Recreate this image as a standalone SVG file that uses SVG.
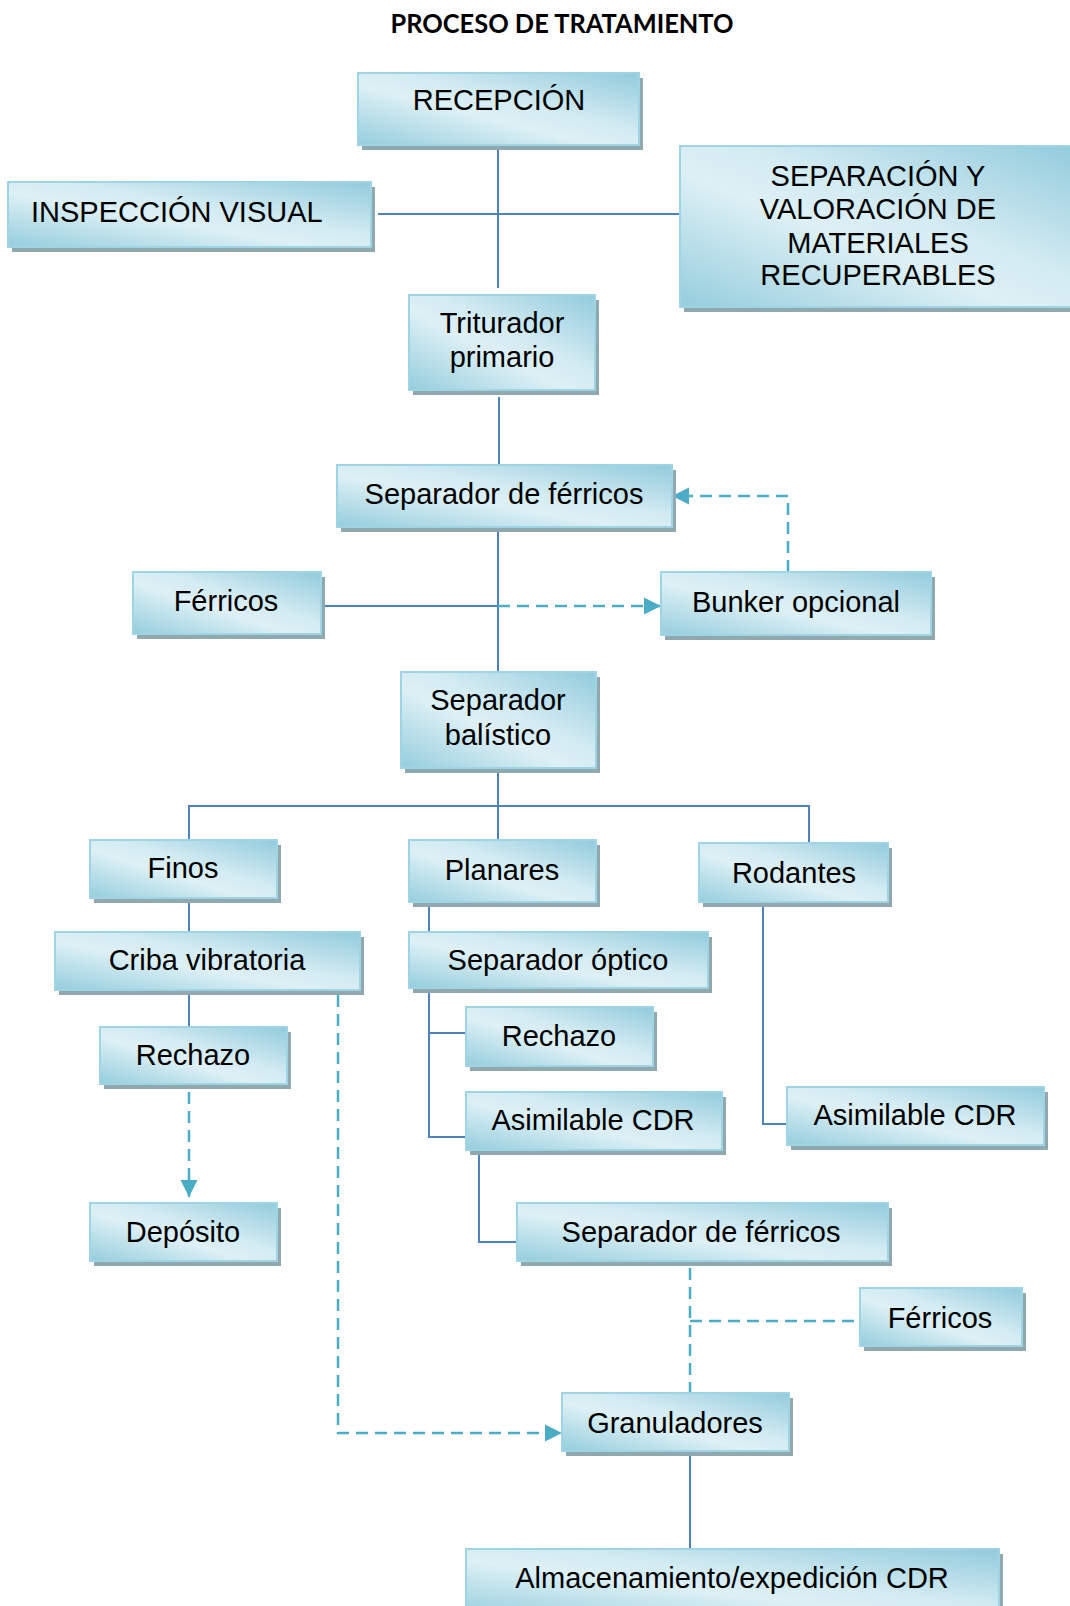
<svg xmlns="http://www.w3.org/2000/svg" width="1070" height="1606" viewBox="0 0 1070 1606">
<defs>
<linearGradient id="g" x1="1" y1="0" x2="0" y2="1">
<stop offset="0" stop-color="#92cbdc"/>
<stop offset="0.42" stop-color="#d3ebf2"/>
<stop offset="0.58" stop-color="#ddf0f5"/>
<stop offset="1" stop-color="#95cddd"/>
</linearGradient>
<marker id="ar" markerUnits="userSpaceOnUse" markerWidth="20" markerHeight="20" refX="17" refY="8.5" orient="auto" overflow="visible">
<path d="M0,0 L17,8.5 L0,17 z" fill="#4bacc6"/>
</marker>
<style>
.sh{fill:#8fa9ae}
.bx{fill:url(#g);stroke:#9fd4e4;stroke-width:2}
.t{font-family:"Liberation Sans",Arial,sans-serif;font-size:29px;fill:#000;text-anchor:middle}
.c{fill:none;stroke:#4f81bd;stroke-width:2}
.d{fill:none;stroke:#4bacc6;stroke-width:2.5;stroke-dasharray:12 7}
</style>
</defs>
<rect width="1070" height="1606" fill="#fff"/>
<text x="562" y="33" font-family="Lato,'Liberation Sans',sans-serif" font-weight="bold" font-size="27" text-anchor="middle" textLength="343" lengthAdjust="spacingAndGlyphs">PROCESO DE TRATAMIENTO</text>

<g id="connectors">
<path class="c" d="M498,150 V288"/>
<path class="c" d="M378,214 H680"/>
<path class="c" d="M499,397 V465"/>
<path class="c" d="M498,532 V672"/>
<path class="c" d="M321,606 H498"/>
<path class="d" d="M498,606 H661" marker-end="url(#ar)"/>
<path class="d" d="M788,572 V496 H672" marker-end="url(#ar)"/>
<path class="c" d="M498,773 V840"/>
<path class="c" d="M189,840 V806 H809 V843"/>
<path class="c" d="M189,903 V932"/>
<path class="c" d="M189,995 V1027"/>
<path class="d" d="M189,1092 V1197" marker-end="url(#ar)"/>
<path class="d" d="M338,995 V1433 H562" marker-end="url(#ar)"/>
<path class="c" d="M429,907 V932"/>
<path class="c" d="M429,993 V1137 H466"/>
<path class="c" d="M429,1033 H466"/>
<path class="c" d="M763,907 V1124 H787"/>
<path class="c" d="M479,1155 V1242 H517"/>
<path class="d" d="M690,1268 V1393"/>
<path class="d" d="M690,1321 H860"/>
<path class="c" d="M690,1456 V1549"/>
</g>

<g id="recepcion"><rect class="sh" x="362" y="78" width="281" height="72"/><rect class="bx" x="358" y="73" width="281" height="72"/><text class="t" x="499" y="110">RECEPCIÓN</text></g>
<g id="inspeccion"><rect class="sh" x="12" y="187" width="363" height="65"/><rect class="bx" x="8" y="182" width="363" height="65"/><text class="t" x="31" y="222" style="text-anchor:start">INSPECCIÓN VISUAL</text></g>
<g id="separacion"><rect class="sh" x="684" y="151" width="400" height="161"/><rect class="bx" x="680" y="146" width="400" height="161"/>
<text class="t" x="878" y="186">SEPARACIÓN Y</text><text class="t" x="878" y="219">VALORACIÓN DE</text><text class="t" x="878" y="253">MATERIALES</text><text class="t" x="878" y="285">RECUPERABLES</text></g>
<g id="triturador"><rect class="sh" x="413" y="300" width="186" height="95"/><rect class="bx" x="409" y="295" width="186" height="95"/><text class="t" x="502" y="333">Triturador</text><text class="t" x="502" y="367">primario</text></g>
<g id="sepferricos1"><rect class="sh" x="341" y="470" width="335" height="62"/><rect class="bx" x="337" y="465" width="335" height="62"/><text class="t" x="504" y="504">Separador de férricos</text></g>
<g id="ferricos1"><rect class="sh" x="137" y="577" width="188" height="62"/><rect class="bx" x="133" y="572" width="188" height="62"/><text class="t" x="226" y="611">Férricos</text></g>
<g id="bunker"><rect class="sh" x="665" y="577" width="270" height="63"/><rect class="bx" x="661" y="572" width="270" height="63"/><text class="t" x="796" y="612">Bunker opcional</text></g>
<g id="balistico"><rect class="sh" x="405" y="677" width="195" height="96"/><rect class="bx" x="401" y="672" width="195" height="96"/><text class="t" x="498" y="710">Separador</text><text class="t" x="498" y="745">balístico</text></g>
<g id="finos"><rect class="sh" x="94" y="845" width="187" height="58"/><rect class="bx" x="90" y="840" width="187" height="58"/><text class="t" x="183" y="878">Finos</text></g>
<g id="planares"><rect class="sh" x="413" y="845" width="187" height="62"/><rect class="bx" x="409" y="840" width="187" height="62"/><text class="t" x="502" y="880">Planares</text></g>
<g id="rodantes"><rect class="sh" x="703" y="848" width="189" height="59"/><rect class="bx" x="699" y="843" width="189" height="59"/><text class="t" x="794" y="883">Rodantes</text></g>
<g id="criba"><rect class="sh" x="59" y="937" width="305" height="58"/><rect class="bx" x="55" y="932" width="305" height="58"/><text class="t" x="207" y="970">Criba vibratoria</text></g>
<g id="optico"><rect class="sh" x="413" y="937" width="299" height="56"/><rect class="bx" x="409" y="932" width="299" height="56"/><text class="t" x="558" y="970">Separador óptico</text></g>
<g id="rechazo1"><rect class="sh" x="104" y="1032" width="187" height="57"/><rect class="bx" x="100" y="1027" width="187" height="57"/><text class="t" x="193" y="1065">Rechazo</text></g>
<g id="rechazo2"><rect class="sh" x="470" y="1012" width="187" height="59"/><rect class="bx" x="466" y="1007" width="187" height="59"/><text class="t" x="559" y="1046">Rechazo</text></g>
<g id="asimilable1"><rect class="sh" x="470" y="1097" width="256" height="58"/><rect class="bx" x="466" y="1092" width="256" height="58"/><text class="t" x="593" y="1130">Asimilable CDR</text></g>
<g id="asimilable2"><rect class="sh" x="791" y="1092" width="257" height="58"/><rect class="bx" x="787" y="1087" width="257" height="58"/><text class="t" x="915" y="1125">Asimilable CDR</text></g>
<g id="deposito"><rect class="sh" x="94" y="1208" width="187" height="58"/><rect class="bx" x="90" y="1203" width="187" height="58"/><text class="t" x="183" y="1242">Depósito</text></g>
<g id="sepferricos2"><rect class="sh" x="521" y="1208" width="371" height="58"/><rect class="bx" x="517" y="1203" width="371" height="58"/><text class="t" x="701" y="1242">Separador de férricos</text></g>
<g id="ferricos2"><rect class="sh" x="864" y="1293" width="162" height="58"/><rect class="bx" x="860" y="1288" width="162" height="58"/><text class="t" x="940" y="1328">Férricos</text></g>
<g id="granuladores"><rect class="sh" x="566" y="1398" width="227" height="58"/><rect class="bx" x="562" y="1393" width="227" height="58"/><text class="t" x="675" y="1433">Granuladores</text></g>
<g id="almacenamiento"><rect class="sh" x="470" y="1554" width="533" height="70"/><rect class="bx" x="466" y="1549" width="533" height="70"/><text class="t" x="732" y="1588">Almacenamiento/expedición CDR</text></g>
</svg>
